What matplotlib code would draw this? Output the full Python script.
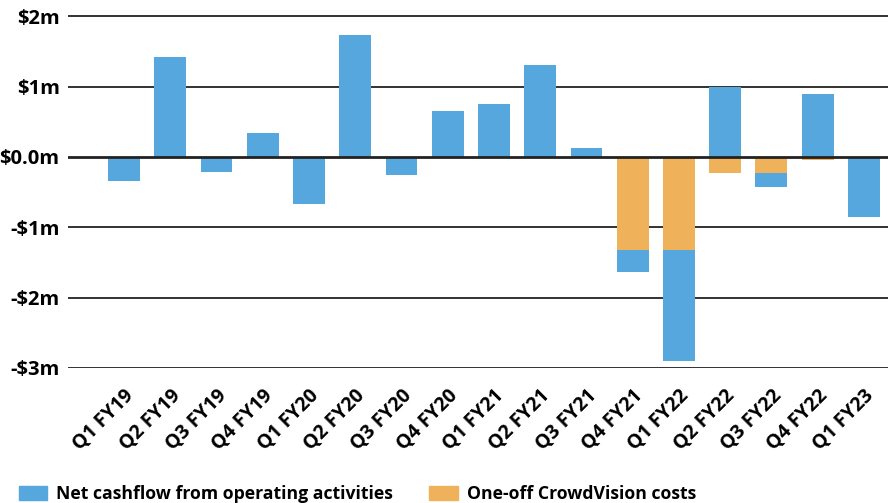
import numpy as np
import matplotlib
matplotlib.use('Agg')
import matplotlib.pyplot as plt
from matplotlib.patches import Patch

quarters = ['Q1 FY19', 'Q2 FY19', 'Q3 FY19', 'Q4 FY19', 'Q1 FY20', 'Q2 FY20',
            'Q3 FY20', 'Q4 FY20', 'Q1 FY21', 'Q2 FY21', 'Q3 FY21', 'Q4 FY21',
            'Q1 FY22', 'Q2 FY22', 'Q3 FY22', 'Q4 FY22', 'Q1 FY23']
# net operating cashflow, excluding the one-off costs ($m)
net_cashflow = [-0.34, 1.42, -0.21, 0.34, -0.67, 1.73, -0.26, 0.65, 0.75, 1.31,
                0.13, -0.30, -1.57, 1.00, -0.20, 0.90, -0.86]
# one-off CrowdVision costs ($m)
crowdvision = [0, 0, 0, 0, 0, 0, 0, 0, 0, 0, 0, -1.33, -1.33, -0.23, -0.23, -0.05, 0]
y_ticks = [2, 1, 0, -1, -2, -3]
y_labels = ['$2m', '$1m', '$0.0m', '-$1m', '-$2m', '-$3m']

blue = '#55a7dd'
orange = '#efb25a'

plt.rcParams['font.family'] = ['Open Sans', 'DejaVu Sans']
plt.rcParams['font.weight'] = 'bold'

fig = plt.figure(figsize=(8.88, 5.03), dpi=100)
ax = fig.add_axes([0.0766, 0.2684, 0.9234, 0.7316])

x = np.arange(len(quarters))
net = np.array(net_cashflow)
cv = np.array(crowdvision)
# blue sits below the orange part when both are negative
base = np.where((net < 0) & (cv < 0), cv, 0)

ax.bar(x, cv, width=0.69, color=orange, zorder=3)
ax.bar(x, net, bottom=base, width=0.69, color=blue, zorder=3)

ax.set_ylim(-3.0, 2.23)
ax.set_xlim(-1.21, 16.52)
ax.set_yticks(y_ticks)
ax.set_yticklabels(y_labels, fontsize=14.5, fontweight='bold')
ax.set_xticks(x)
ax.set_xticklabels(quarters, rotation=45, ha='right', rotation_mode='anchor',
                   fontsize=14, fontweight='bold')
ax.tick_params(axis='both', length=0)
ax.tick_params(axis='y', pad=6)
ax.tick_params(axis='x', pad=13)

for t in y_ticks:
    ax.axhline(t, color='#222222', lw=2.0 if t == 0 else 1.3, zorder=2 if t != 0 else 4)
for s in ax.spines.values():
    s.set_visible(False)

handles = [Patch(color=blue, label='Net cashflow from operating activities'),
           Patch(color=orange, label='One-off CrowdVision costs')]
fig.legend(handles=handles, loc='lower left', bbox_to_anchor=(0.003, -0.032), ncol=2,
           frameon=False, prop={'size': 12.7, 'weight': 'bold'},
           handlelength=1.6, handleheight=0.8, columnspacing=2.1, handletextpad=0.5)

fig.savefig('out.png', dpi=100)
